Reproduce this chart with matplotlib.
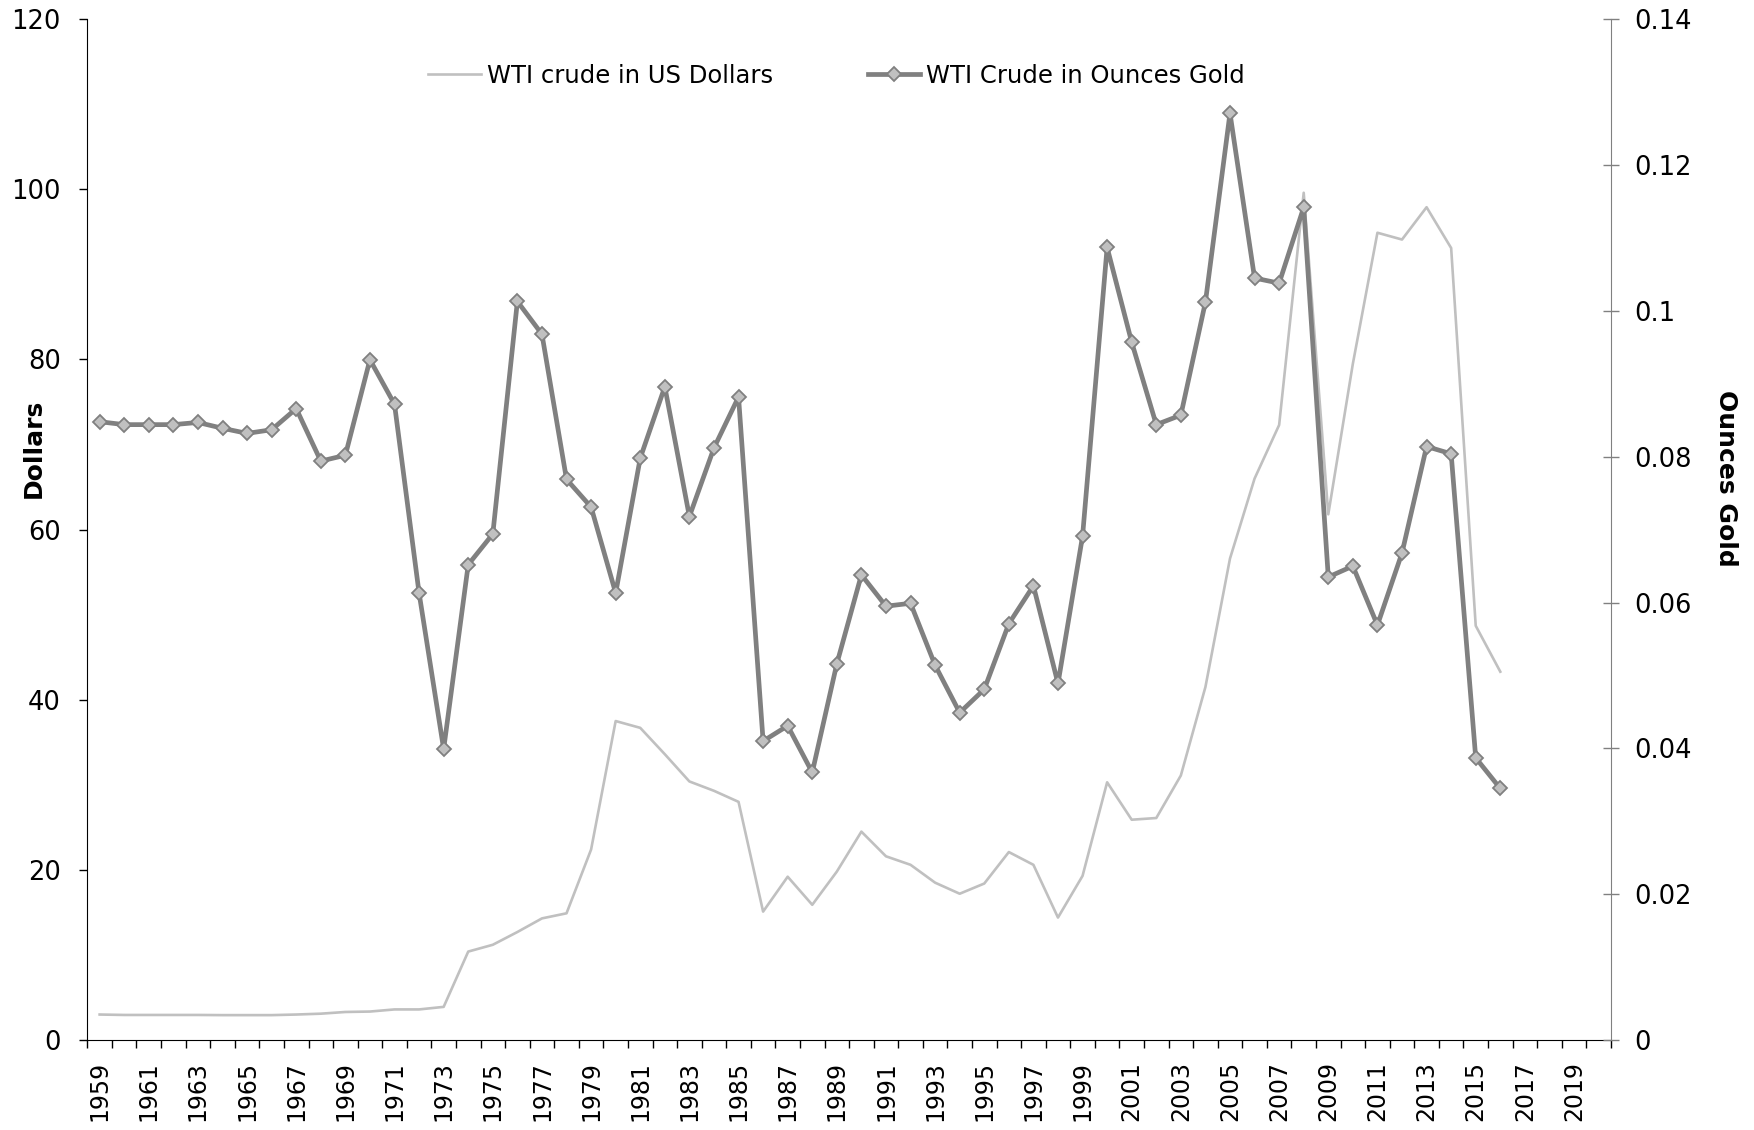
import numpy as np
import matplotlib
matplotlib.use("Agg")
import matplotlib.pyplot as plt

plt.rcParams['font.family'] = ['DejaVu Sans']

years = list(range(1959, 2017))

# WTI crude, US dollars per barrel
wti_usd = [3.0, 2.95, 2.95, 2.95, 2.95, 2.93, 2.93, 2.93, 3.0, 3.1,
           3.3, 3.35, 3.6, 3.6, 3.9, 10.4, 11.2, 12.7, 14.3, 14.9,
           22.4, 37.5, 36.7, 33.6, 30.4, 29.3, 28.0, 15.1, 19.2, 15.9,
           19.8, 24.5, 21.6, 20.6, 18.5, 17.2, 18.4, 22.1, 20.6, 14.4,
           19.3, 30.3, 25.9, 26.1, 31.1, 41.5, 56.6, 66.0, 72.3, 99.6,
           61.8, 79.5, 94.9, 94.1, 97.9, 93.1, 48.7, 43.3]

# WTI crude priced in ounces of gold
wti_gold = [0.0848, 0.0844, 0.0844, 0.0844, 0.0847, 0.0839, 0.0832, 0.0837, 0.0866, 0.0794,
            0.0802, 0.0933, 0.0872, 0.0613, 0.0399, 0.0652, 0.0694, 0.1013, 0.0968, 0.0769,
            0.0731, 0.0613, 0.0798, 0.0896, 0.0718, 0.0812, 0.0882, 0.0410, 0.0431, 0.0367,
            0.0516, 0.0638, 0.0595, 0.0599, 0.0514, 0.0449, 0.0481, 0.0571, 0.0623, 0.0489,
            0.0691, 0.1087, 0.0957, 0.0844, 0.0857, 0.1012, 0.1271, 0.1045, 0.1038, 0.1142,
            0.0635, 0.0650, 0.0569, 0.0668, 0.0814, 0.0804, 0.0387, 0.0345]

label_years = list(range(1959, 2020, 2))

fig = plt.figure(figsize=(17.54, 11.30), dpi=100)
ax = fig.add_axes([0.0498, 0.0796, 0.9184 - 0.0498, 0.9830 - 0.0796])
ax2 = ax.twinx()

l1, = ax.plot(years, wti_usd, color='#c0c0c0', lw=1.9, label='WTI crude in US Dollars')
l2, = ax2.plot(years, wti_gold, color='#808080', lw=3.4, marker='D', markersize=7,
               markerfacecolor='#c0c0c0', markeredgecolor='#808080', markeredgewidth=1.3,
               label='WTI Crude in Ounces Gold')

ax.set_xlim(1958.5, 2020.5)
ax.set_ylim(0, 120)
ax2.set_ylim(0, 0.14)

ax.set_yticks(range(0, 121, 20))
ax2.set_yticks([0, 0.02, 0.04, 0.06, 0.08, 0.1, 0.12, 0.14])
ax2.set_yticklabels(['0', '0.02', '0.04', '0.06', '0.08', '0.1', '0.12', '0.14'])

ax.set_xticks(label_years)
ax.set_xticklabels([str(y) for y in label_years], rotation=90)
ax.set_xticks(np.arange(1958.5, 2021, 1), minor=True)

ax.tick_params(axis='x', which='major', length=0, pad=15, labelsize=17)
ax.tick_params(axis='x', which='minor', length=6, width=1, direction='out')
ax.tick_params(axis='y', length=6, width=1, direction='out', pad=13, labelsize=18.5)
ax2.tick_params(axis='y', length=12, width=1, direction='inout', pad=11, labelsize=18.5,
                color='#808080')

for a in (ax, ax2):
    a.spines['top'].set_visible(False)
ax2.spines['left'].set_visible(False)
ax2.spines['bottom'].set_visible(False)
ax.spines['right'].set_visible(False)
ax2.spines['right'].set_color('#808080')

fig.text(0.019, 0.603, 'Dollars', rotation=90, fontsize=18, fontweight='bold',
         ha='center', va='center')
fig.text(0.984, 0.577, 'Ounces Gold', rotation=270, fontsize=18, fontweight='bold',
         ha='center', va='center')

fig.legend([l1, l2], [l1.get_label(), l2.get_label()], loc='center',
           bbox_to_anchor=(0.477, 0.933), ncol=2, frameon=False, fontsize=17.5,
           handlelength=2.15, handletextpad=0.25, columnspacing=3.9, borderpad=0)

fig.savefig('out.png', dpi=100)
